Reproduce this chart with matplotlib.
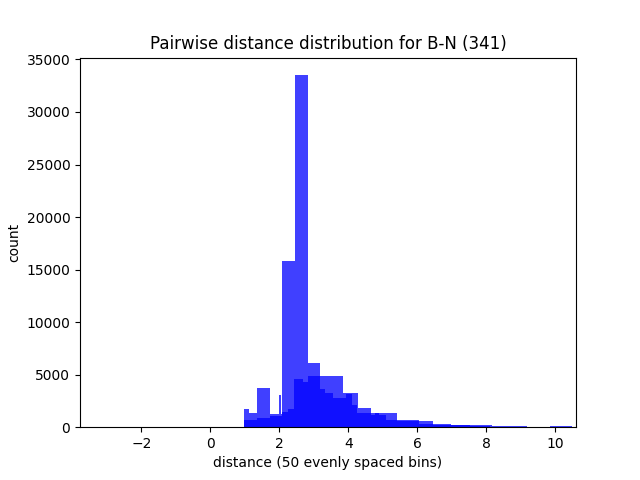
import matplotlib
matplotlib.use("Agg")
import matplotlib.pyplot as plt
import numpy as np

# Light envelope series (upper layer)
edges_a = [0.98, 1.12, 1.35, 1.73, 1.99, 2.05, 2.08, 2.46, 2.83, 3.18, 3.85,
           4.28, 4.66, 5.41, 6.05, 6.46, 6.98, 7.53, 8.17, 9.18, 9.85, 10.48]
counts_a = [1717, 1335, 3720, 1270, 3050, 1270, 15800, 33500, 6100, 4860,
            3240, 1810, 1335, 667, 570, 310, 250, 190, 70, 0, 100]

# Overlapping series (darker overlap layer)
edges_b = [0.98, 1.35, 1.73, 2.08, 2.25, 2.43, 2.69, 2.83, 3.18, 3.33, 3.56,
           3.93, 4.11, 4.25, 4.66, 4.77, 4.89, 5.09, 5.41, 6.05, 6.46, 7.53,
           8.11, 9.18]
counts_b = [700, 890, 1050, 1460, 1700, 4550, 4260, 4860, 3620, 3270, 2770,
            3200, 2100, 1360, 1140, 1330, 1140, 670, 570, 350, 250, 120, 50]

title = "Pairwise distance distribution for B-N (341)"
xlabel = "distance (50 evenly spaced bins)"
ylabel = "count"

fig, ax = plt.subplots(figsize=(6.4, 4.8), dpi=100)
for edges, counts in [(edges_a, counts_a), (edges_b, counts_b)]:
    e = np.array(edges)
    centers = (e[:-1] + e[1:]) / 2
    ax.hist(centers, bins=e, weights=counts, color="blue", alpha=0.75)

ax.set_xlim(-3.78, 10.6)
ax.set_title(title)
ax.set_xlabel(xlabel)
ax.set_ylabel(ylabel)
fig.savefig("out.png")
